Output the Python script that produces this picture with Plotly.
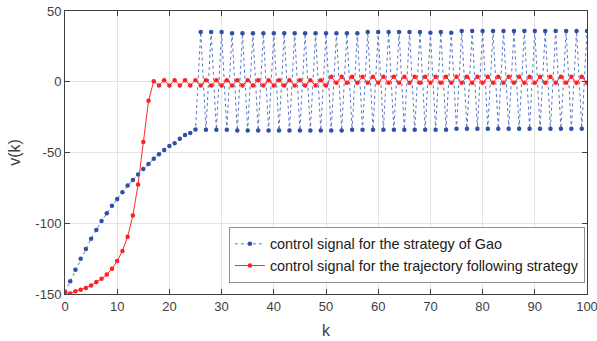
import plotly.graph_objects as go

k = list(range(101))

# control signal for the strategy of Gao
gao = [
    -148.5, -141.0, -132.9, -125.1, -118.2, -110.9, -104.8, -98.4, -92.9, -87.6,
    -82.8, -78.1, -73.3, -69.5, -65.6, -61.7, -58.2, -54.4, -51.3, -48.3,
    -45.4, -43.5, -40.2, -37.6, -36.2, -33.8, 35.2, -33.9, 35.2, -33.9,
    35.2, -33.9, 34.3, -34.5, 34.3, -34.5, 34.3, -34.5, 34.3, -34.5,
    34.3, -34.5, 34.3, -34.5, 34.3, -34.5, 34.3, -34.5, 34.3, -34.5,
    34.3, -34.5, 34.3, -34.5, 34.3, -33.9, 34.3, -33.9, 35.2, -33.9,
    35.2, -33.9, 35.2, -33.9, 35.2, -33.9, 35.2, -33.9, 35.2, -33.9,
    34.6, -33.9, 35.2, -33.9, 34.6, -33.2, 35.9, -33.2, 35.9, -33.2,
    35.9, -33.2, 35.9, -33.2, 35.9, -33.2, 35.9, -33.2, 35.9, -33.2,
    35.9, -33.2, 35.9, -33.2, 35.9, -33.2, 35.9, -33.2, 35.9, -33.2,
    35.9,
]

# control signal for the trajectory following strategy
traj = [
    -148.5, -149.6, -148.0, -147.0, -145.7, -144.0, -141.6, -139.3, -136.2, -132.2,
    -126.7, -119.6, -109.5, -94.6, -72.6, -42.6, -13.5, 0.4, -2.6, 1.1,
    -2.6, 1.1, -2.6, 1.1, -2.6, 1.1, -2.6, 1.1, -2.6, 1.1,
    -2.6, 1.1, -2.6, 1.1, -2.6, 1.1, -2.6, 1.1, -2.6, 1.1,
    -2.6, 1.1, -2.6, 1.1, -2.6, 1.1, -2.6, 1.1, -2.6, 1.1,
    -2.6, 3.5, -0.7, 3.5, -0.7, 3.5, -0.7, 3.5, -0.7, 3.5,
    -0.7, 3.5, -0.7, 3.5, -0.7, 3.5, -0.7, 3.5, -0.7, 3.5,
    -0.7, 3.5, -0.7, 3.5, -0.7, 3.5, -0.7, 3.5, -0.7, 3.5,
    -0.7, 3.5, -0.7, 3.5, -0.7, 3.5, -0.7, 3.5, -0.7, 3.5,
    -0.7, 3.5, -0.7, 3.5, -0.7, 3.5, -0.7, 3.5, -0.7, 3.5,
    -0.7,
]

x_ticks = [0, 10, 20, 30, 40, 50, 60, 70, 80, 90, 100]
y_ticks = [-150, -100, -50, 0, 50]
y_tick_labels = ["-150", "-100", "-50", "0", "50"]

FONT = "Liberation Sans, Arial, sans-serif"

fig = go.Figure()
fig.add_trace(go.Scatter(
    x=k, y=gao, mode="lines+markers",
    name="control signal for the strategy of Gao",
    line=dict(color="#5a78c8", width=1, dash="dot"),
    marker=dict(color="#2f4fa8", size=4.5),
))
fig.add_trace(go.Scatter(
    x=k, y=traj, mode="lines+markers",
    name="control signal for the trajectory following strategy",
    line=dict(color="#ff2a2a", width=1),
    marker=dict(color="#ff2020", size=4.5),
))

axis_common = dict(
    showline=True, linecolor="#404040", linewidth=1, mirror="ticks",
    ticks="inside", ticklen=5, tickcolor="#404040",
    showgrid=True, gridcolor="#e3e3e3", gridwidth=1, zeroline=False,
    automargin=False, ticklabeloverflow="allow",
    tickfont=dict(family=FONT, size=13, color="#404040"),
)

fig.update_layout(
    width=597, height=341,
    margin=dict(l=65, r=10, t=11, b=47),
    paper_bgcolor="white", plot_bgcolor="white",
    font=dict(family=FONT, color="#404040"),
    xaxis=dict(range=[0, 100], tickvals=x_ticks,
               title=dict(text="k", font=dict(size=16, color="#404040"), standoff=12),
               **axis_common),
    yaxis=dict(range=[-150, 50], tickvals=y_ticks, ticktext=y_tick_labels,
               title=dict(text="v(k)", font=dict(size=16, color="#404040"), standoff=10),
               **axis_common),
    legend=dict(
        x=0.996, y=0.039, xanchor="right", yanchor="bottom",
        bgcolor="white", bordercolor="#909090", borderwidth=1,
        font=dict(family=FONT, size=14.4, color="#202020"),
        tracegroupgap=0, itemwidth=30,
    ),
    showlegend=True,
)

fig.write_html("out.html")
